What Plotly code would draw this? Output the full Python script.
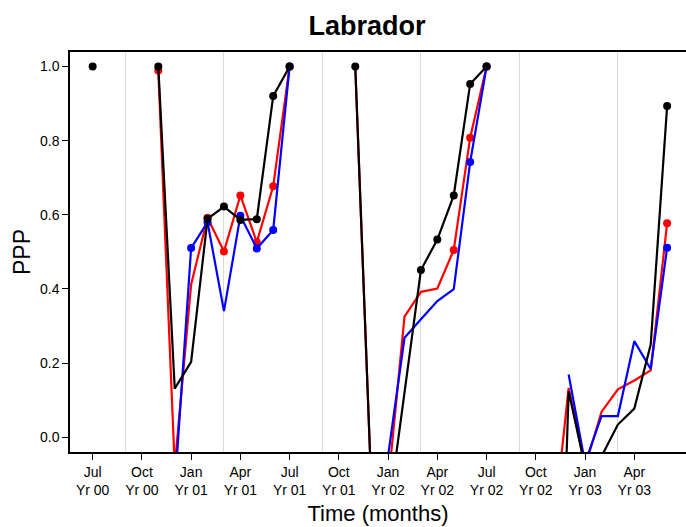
import plotly.graph_objects as go

# ---- data (month index 0 = Jul Yr 00) ----
months = list(range(36))

black_vals = [1.0, None, None, None, 1.0, 0.131, 0.203, 0.589, 0.622, 0.586, 0.588, 0.92, 1.0,
              None, None, None, 1.0, -0.16, -0.21, 0.12, 0.451, 0.533, 0.652, 0.953, 1.0,
              None, None, None, -1.24, 0.124, -0.08, -0.052, 0.034, 0.077, 0.250, 0.893]
black_mark = [1, 0, 0, 0, 1, 0, 0, 1, 1, 1, 1, 1, 1,
              0, 0, 0, 1, 0, 0, 0, 1, 1, 1, 1, 1,
              0, 0, 0, 0, 0, 0, 0, 0, 0, 0, 1]

red_vals = [None, None, None, None, 0.989, -0.08, 0.412, 0.592, 0.501, 0.652, 0.526, 0.677, 1.0,
            None, None, None, 1.0, -0.16, -0.13, 0.325, 0.392, 0.401, 0.505, 0.808, 1.0,
            None, None, None, -0.28, 0.133, -0.08, 0.068, 0.129, 0.153, 0.180, 0.577]
red_mark = [0, 0, 0, 0, 1, 0, 0, 1, 1, 1, 1, 1, 1,
            0, 0, 0, 0, 0, 0, 0, 0, 0, 1, 1, 1,
            0, 0, 0, 0, 0, 0, 0, 0, 0, 0, 1]

blue_vals = [None, None, None, None, None, -0.14, 0.510, 0.580, 0.340, 0.597, 0.509, 0.559, 1.0,
             None, None, None, None, None, -0.05, 0.268, 0.318, 0.367, 0.399, 0.742, 1.0,
             None, None, None, None, 0.169, -0.07, 0.057, 0.057, 0.259, 0.184, 0.511]
blue_mark = [0, 0, 0, 0, 0, 0, 1, 1, 0, 1, 1, 1, 1,
             0, 0, 0, 0, 0, 0, 0, 0, 0, 0, 1, 1,
             0, 0, 0, 0, 0, 0, 0, 0, 0, 0, 1]

tick_months = [0, 3, 6, 9, 12, 15, 18, 21, 24, 27, 30, 33]
tick_labels = ["Jul<br>Yr 00", "Oct<br>Yr 00", "Jan<br>Yr 01", "Apr<br>Yr 01",
               "Jul<br>Yr 01", "Oct<br>Yr 01", "Jan<br>Yr 02", "Apr<br>Yr 02",
               "Jul<br>Yr 02", "Oct<br>Yr 02", "Jan<br>Yr 03", "Apr<br>Yr 03"]
grid_months = [2, 8, 14, 20, 26, 32]
y_ticks = [0.0, 0.2, 0.4, 0.6, 0.8, 1.0]

FONT = "Liberation Sans, Arial, Helvetica, sans-serif"

fig = go.Figure()
for vals, marks, col in [(red_vals, red_mark, "#ff0000"),
                         (blue_vals, blue_mark, "#0000ff"),
                         (black_vals, black_mark, "#000000")]:
    fig.add_trace(go.Scatter(
        x=months, y=vals, mode="lines+markers",
        line=dict(color=col, width=2.2),
        marker=dict(color=col, opacity=1, size=[8 if m else 0 for m in marks], line=dict(width=0)),
        connectgaps=False, showlegend=False, cliponaxis=True,
    ))

fig.update_layout(
    width=686, height=527,
    margin=dict(l=70, r=0, t=52, b=75),
    paper_bgcolor="white", plot_bgcolor="white",
    font=dict(family=FONT, color="black", size=14),
    title=dict(text="<b>Labrador</b>", font=dict(size=27, family=FONT, color="black"),
               xref="container", x=0.535, xanchor="center",
               yref="container", y=0.952, yanchor="middle"),
)
fig.update_xaxes(
    range=[-1.38, 36.15], tickmode="array", tickvals=tick_months, ticktext=tick_labels,
    showgrid=False, zeroline=False, showline=True, linecolor="black", linewidth=1.5,
    mirror=True, ticks="outside", ticklen=6, tickcolor="black", tickwidth=1.2,
    tickfont=dict(size=14),
    minor=dict(tickmode="array", tickvals=grid_months, showgrid=True,
               gridcolor="#d9d9d9", gridwidth=1, ticks=""),
    title=dict(text="Time (months)", font=dict(size=22), standoff=9),
)
fig.update_yaxes(
    range=[-0.040, 1.039], tickmode="array", tickvals=y_ticks,
    ticktext=["0.0", "0.2", "0.4", "0.6", "0.8", "1.0"],
    showgrid=False, zeroline=False, showline=True, linecolor="black", linewidth=1.5,
    mirror=False, ticks="outside", ticklen=6, tickcolor="black", tickwidth=1.2,
    tickfont=dict(size=14),
    title=dict(text="PPP", font=dict(size=23), standoff=3),
)

fig.write_html("out.html")
